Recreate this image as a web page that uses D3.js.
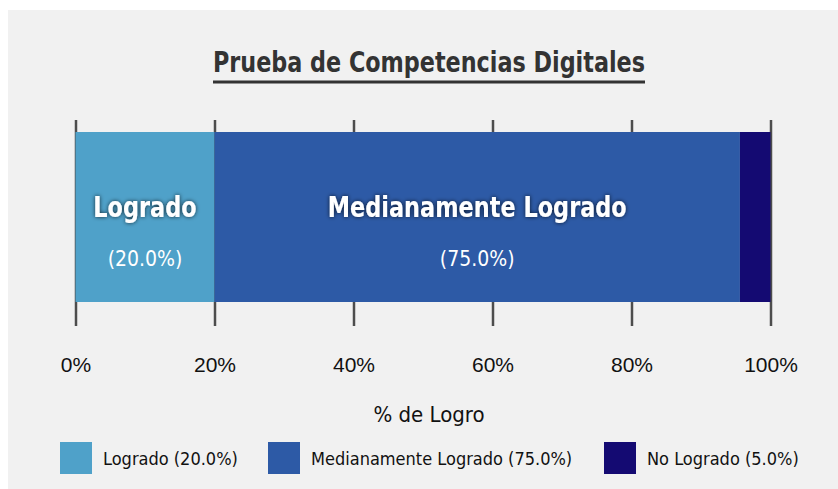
<!DOCTYPE html>
<head>
<style>
body { margin: 0; background: #fff; }
svg { font-family: "DejaVu Sans Condensed", "Liberation Sans Narrow", "DejaVu Sans", sans-serif; font-stretch: condensed; }
</style>
<script src="https://d3js.org/d3.v7.min.js"></script>
</head>
<body>
<svg id="chart" width="838" height="489"></svg>
<script>

var width = 838;
var height = 489;

// chart data
var categories = ["Logrado", "Medianamente Logrado", "No Logrado"];
var barValues = [20.0, 75.6, 4.4];           // widths as drawn
var labelValues = [20.0, 75.0, 5.0];         // percentages printed in labels
var colors = ["#4fa1c9", "#2d5aa6", "#140a72"];
var tickValues = [0, 20, 40, 60, 80, 100];
var titleText = "Prueba de Competencias Digitales";
var axisTitle = "% de Logro";

var svg = d3.select("#chart");

// grey panel
svg.append("rect")
    .attr("x", 8).attr("y", 10)
    .attr("width", width - 8).attr("height", height - 10)
    .attr("fill", "#f1f1f1");

// shadow for bold labels
var defs = svg.append("defs");
var filt = defs.append("filter").attr("id", "shadow")
    .attr("x", "-20%").attr("y", "-40%").attr("width", "140%").attr("height", "180%");
filt.append("feDropShadow")
    .attr("dx", 0).attr("dy", 0)
    .attr("stdDeviation", 2.2)
    .attr("flood-color", "#000").attr("flood-opacity", 0.75);

var x = d3.scaleLinear().domain([0, 100]).range([75.5, 770.5]);

var barTop = 132, barBottom = 302;

// title
var title = svg.append("text")
    .attr("x", 429).attr("y", 72)
    .attr("text-anchor", "middle")
    .attr("font-size", 29)
    .attr("font-weight", "bold")
    .attr("fill", "#333")
    .text(titleText);
title.attr("textLength", 432).attr("lengthAdjust", "spacingAndGlyphs");
svg.append("rect")
    .attr("x", 213).attr("y", 80.5)
    .attr("width", 432).attr("height", 3)
    .attr("fill", "#333");

// axis with long ticks (behind the bar)
var axis = d3.axisBottom(x)
    .tickValues(tickValues)
    .tickSize(-(326 - 120))
    .tickPadding(31)
    .tickFormat(function(d) { return d + "%"; });

var gAxis = svg.append("g")
    .attr("transform", "translate(0,326)")
    .call(axis);
gAxis.select(".domain").remove();
gAxis.selectAll(".tick line")
    .attr("stroke", "#4d4d4d")
    .attr("stroke-width", 2.5);
gAxis.selectAll(".tick text")
    .attr("font-size", 21)
    .attr("fill", "#111")
    .attr("font-family", null);

// stacked bar
var stacked = [];
var acc = 0;
barValues.forEach(function(v, i) {
    stacked.push({ name: categories[i], start: acc, end: acc + v, color: colors[i], label: labelValues[i] });
    acc += v;
});

svg.append("g").selectAll("rect")
    .data(stacked)
    .enter().append("rect")
    .attr("x", function(d) { return x(d.start); })
    .attr("y", barTop)
    .attr("width", function(d) { return x(d.end) - x(d.start); })
    .attr("height", barBottom - barTop)
    .attr("fill", function(d) { return d.color; });

// labels inside the wide segments
var labelled = stacked.filter(function(d) { return d.end - d.start > 10; });
var lab = svg.append("g").selectAll("g")
    .data(labelled)
    .enter().append("g")
    .attr("transform", function(d) { return "translate(" + (x(d.start) + x(d.end)) / 2 + ",0)"; });
lab.append("text")
    .attr("y", 217)
    .attr("text-anchor", "middle")
    .attr("font-size", 28)
    .attr("font-weight", "bold")
    .attr("fill", "#fff")
    .attr("filter", "url(#shadow)")
    .text(function(d) { return d.name; })
    .each(function() {
        // squeeze a little, the original font is narrower
        var w = this.getComputedTextLength();
        d3.select(this).attr("textLength", w * 0.89).attr("lengthAdjust", "spacingAndGlyphs");
    });
lab.append("text")
    .attr("y", 266)
    .attr("text-anchor", "middle")
    .attr("font-size", 21)
    .attr("fill", "#fff")
    .text(function(d) { return "(" + d.label.toFixed(1) + "%)"; });

// axis title
svg.append("text")
    .attr("x", 429).attr("y", 422)
    .attr("text-anchor", "middle")
    .attr("font-size", 22)
    .attr("fill", "#111")
    .text(axisTitle);

// legend
var legendX = [60, 268, 604];
var leg = svg.append("g").selectAll("g")
    .data(stacked)
    .enter().append("g")
    .attr("transform", function(d, i) { return "translate(" + legendX[i] + ",442)"; });
leg.append("rect")
    .attr("width", 32).attr("height", 32)
    .attr("fill", function(d) { return d.color; });
leg.append("text")
    .attr("x", 43).attr("y", 23)
    .attr("font-size", 18)
    .attr("fill", "#111")
    .text(function(d) { return d.name + " (" + d.label.toFixed(1) + "%)"; });

</script>
</body>
</html>
